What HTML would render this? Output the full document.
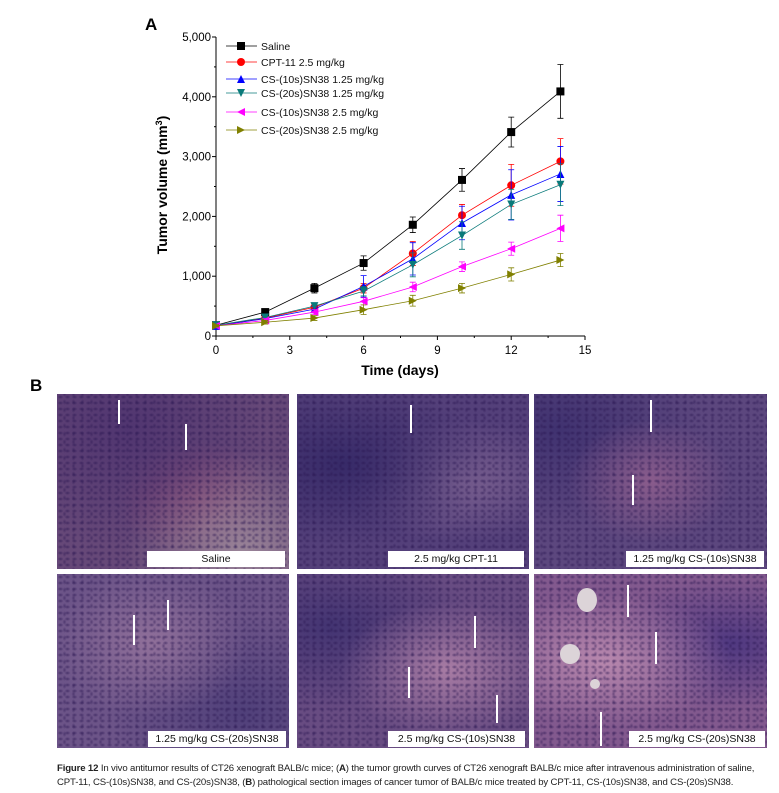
<!DOCTYPE html>
<html><head><meta charset="utf-8"><style>
body{margin:0;background:#fff;width:779px;height:793px;position:relative;overflow:hidden;font-family:"Liberation Sans",sans-serif}
.panel{position:absolute;overflow:hidden}
.panel::before{content:"";position:absolute;inset:0;background-image:radial-gradient(ellipse 3px 2px at 50% 50%,rgba(40,20,80,0.55),transparent 100%),radial-gradient(ellipse 2px 3px at 50% 50%,rgba(40,20,80,0.45),transparent 100%);background-size:7px 6px,9px 8px;background-position:0 0,3px 4px}
.lbl{position:absolute;background:#fff;font-size:10.5px;text-align:center;line-height:16px;height:16px;color:#111;z-index:2}
.arr{position:absolute;width:2px;background:#fff;z-index:2}
.cap{position:absolute;left:57px;top:762px;font-size:9.6px;line-height:14px;color:#222;width:722px;letter-spacing:-0.15px;white-space:nowrap}
</style></head><body>
<div style="position:absolute;left:145px;top:15px;font-weight:bold;font-size:17px">A</div>
<div style="position:absolute;left:30px;top:376px;font-weight:bold;font-size:17px">B</div>
<svg id="chart" width="779" height="380" style="position:absolute;left:0;top:0"></svg>

<div class="panel" style="left:57px;top:394px;width:232px;height:175px;background:radial-gradient(ellipse at 30% 20%,#503570,transparent 60%),radial-gradient(ellipse at 80% 90%,#9a8498,transparent 45%),radial-gradient(ellipse at 60% 60%,#8f4f78,transparent 40%),#664878"><div class="lbl" style="left:90px;top:157px;width:138px">Saline</div><div class="arr" style="left:61px;top:6px;height:24px"></div><div class="arr" style="left:128px;top:30px;height:26px"></div></div>
<div class="panel" style="left:297px;top:394px;width:232px;height:175px;background:radial-gradient(ellipse at 20% 40%,#372a68,transparent 55%),radial-gradient(ellipse at 70% 50%,#7a6090,transparent 50%),#54407a"><div class="lbl" style="left:91px;top:157px;width:136px">2.5 mg/kg CPT-11</div><div class="arr" style="left:113px;top:11px;height:28px"></div></div>
<div class="panel" style="left:534px;top:394px;width:233px;height:175px;background:radial-gradient(ellipse at 50% 50%,#8a5c8c,transparent 50%),radial-gradient(ellipse at 10% 20%,#403270,transparent 50%),#5c477e"><div class="lbl" style="left:92px;top:157px;width:138px">1.25 mg/kg CS-(10s)SN38</div><div class="arr" style="left:116px;top:6px;height:32px"></div><div class="arr" style="left:98px;top:81px;height:30px"></div></div>
<div class="panel" style="left:57px;top:574px;width:232px;height:174px;background:radial-gradient(ellipse at 40% 40%,#90709a,transparent 50%),radial-gradient(ellipse at 80% 80%,#50407a,transparent 50%),#6c5488"><div class="lbl" style="left:91px;top:157px;width:138px">1.25 mg/kg CS-(20s)SN38</div><div class="arr" style="left:110px;top:26px;height:30px"></div><div class="arr" style="left:76px;top:41px;height:30px"></div></div>
<div class="panel" style="left:297px;top:574px;width:232px;height:174px;background:radial-gradient(ellipse at 65% 55%,#a87ca4,transparent 50%),radial-gradient(ellipse at 15% 30%,#433472,transparent 50%),#684c82"><div class="lbl" style="left:91px;top:157px;width:137px">2.5 mg/kg CS-(10s)SN38</div><div class="arr" style="left:177px;top:42px;height:32px"></div><div class="arr" style="left:111px;top:93px;height:31px"></div><div class="arr" style="left:199px;top:121px;height:28px"></div></div>
<div class="panel" style="left:534px;top:574px;width:233px;height:174px;background:radial-gradient(ellipse at 30% 50%,#b888ae,transparent 55%),radial-gradient(ellipse at 85% 40%,#4f3880,transparent 45%),#82598e"><div class="lbl" style="left:95px;top:157px;width:136px">2.5 mg/kg CS-(20s)SN38</div><div style="position:absolute;z-index:1;left:43px;top:14px;width:20px;height:24px;border-radius:50%;background:#dcd4d8"></div><div style="position:absolute;z-index:1;left:26px;top:70px;width:20px;height:20px;border-radius:50%;background:#dcd4d8"></div><div style="position:absolute;z-index:1;left:56px;top:105px;width:10px;height:10px;border-radius:50%;background:#dcd4d8"></div><div class="arr" style="left:93px;top:11px;height:32px"></div><div class="arr" style="left:121px;top:58px;height:32px"></div><div class="arr" style="left:66px;top:138px;height:34px"></div></div>

<div class="cap"><b>Figure 12</b> In vivo antitumor results of CT26 xenograft BALB/c mice; (<b>A</b>) the tumor growth curves of CT26 xenograft BALB/c mice after intravenous administration of saline,<br>CPT-11, CS-(10s)SN38, and CS-(20s)SN38, (<b>B</b>) pathological section images of cancer tumor of BALB/c mice treated by CPT-11, CS-(10s)SN38, and CS-(20s)SN38.</div>

<script>
const days=[0,2,4,6,8,10,12,14];
const saline=[180,400,800,1220,1860,2610,3410,4090];
const salineErr=[20,40,80,120,130,190,250,450];
const cpt=[170,300,480,800,1380,2020,2520,2920];
const cptErr=[20,30,50,80,200,180,350,380];
const s10a=[170,290,450,830,1290,1890,2360,2710];
const s10aErr=[20,30,50,180,270,280,420,460];
const s20a=[180,310,500,750,1190,1680,2200,2530];
const s20aErr=[20,30,50,80,200,230,250,350];
const s10b=[170,260,400,580,820,1160,1460,1800];
const s10bErr=[20,30,40,60,80,80,110,220];
const s20b=[170,230,300,440,590,800,1030,1270];
const s20bErr=[20,30,40,80,90,80,110,110];
const names=["Saline","CPT-11 2.5 mg/kg","CS-(10s)SN38 1.25 mg/kg","CS-(20s)SN38 1.25 mg/kg","CS-(10s)SN38 2.5 mg/kg","CS-(20s)SN38 2.5 mg/kg"];
const xTicks=[0,3,6,9,12,15];
const yTicks=[0,1000,2000,3000,4000,5000];
const yTickLabels=["0","1,000","2,000","3,000","4,000","5,000"];
const series=[[saline,salineErr,"#000","sq"],[cpt,cptErr,"#f00","ci"],[s10a,s10aErr,"#00f","up"],[s20a,s20aErr,"#0a7a7a","dn"],[s10b,s10bErr,"#f0f","lt"],[s20b,s20bErr,"#808000","rt"]];
const X=v=>216+v*(585-216)/15, Y=v=>336-v*(336-37)/5000;
const svg=document.getElementById('chart');const NS="http://www.w3.org/2000/svg";
function mk(t,a,p){const e=document.createElementNS(NS,t);for(const k in a)e.setAttribute(k,a[k]);(p||svg).appendChild(e);return e;}
function marker(type,x,y,c,g){const s=4;let e;
 if(type=="sq")e=mk('rect',{x:x-s,y:y-s,width:2*s,height:2*s,fill:c},g);
 else if(type=="ci")e=mk('circle',{cx:x,cy:y,r:s,fill:c},g);
 else{const pts={up:[[0,-s],[s,s],[-s,s]],dn:[[0,s],[s,-s],[-s,-s]],lt:[[-s,0],[s,-s],[s,s]],rt:[[s,0],[-s,-s],[-s,s]]}[type];
 e=mk('polygon',{points:pts.map(p=>(x+p[0])+','+(y+p[1])).join(' '),fill:c},g);}
 
 }
const ax=mk('g',{stroke:'#000','stroke-width':1});


mk('line',{x1:216,y1:Y(5000),x2:216,y2:336},ax);mk('line',{x1:216,y1:336,x2:585,y2:336},ax);
for(let i=0;i<=10;i++){const v=i*500;mk('line',{x1:216,y1:Y(v),x2:216-(i%2?2:4),y2:Y(v)},ax);}
for(let d=0;d<=15;d+=1.5){mk('line',{x1:X(d),y1:336,x2:X(d),y2:336+(d%3?2:4)},ax);}
yTicks.forEach((v,i)=>{const t=mk('text',{x:211,y:Y(v)+4,'text-anchor':'end','font-size':11.5,'font-family':'Liberation Sans'});t.textContent=yTickLabels[i];});
xTicks.forEach(v=>{const t=mk('text',{x:X(v),y:354,'text-anchor':'middle','font-size':11.5,'font-family':'Liberation Sans'});t.textContent=v;});
let t=mk('text',{x:400,y:375,'text-anchor':'middle','font-size':14,'font-weight':'bold','font-family':'Liberation Sans'});t.textContent="Time (days)";
t=mk('text',{x:0,y:0,'text-anchor':'middle','font-size':14,'font-weight':'bold','font-family':'Liberation Sans',transform:'translate(167,185) rotate(-90)'});t.innerHTML='Tumor volume (mm<tspan dy="-5" font-size="9">3</tspan><tspan dy="5">)</tspan>';
series.forEach((s,si)=>{const [vals,err,c,m]=s;const g=mk('g',{});
 
 
 mk('polyline',{points:vals.map((v,i)=>X(days[i])+','+Y(v)).join(' '),fill:'none',stroke:c,'stroke-width':0.8},g);
 vals.forEach((v,i)=>{const x=X(days[i]);mk('path',{d:`M${x},${Y(v-err[i])}V${Y(v+err[i])}M${x-3},${Y(v-err[i])}h6M${x-3},${Y(v+err[i])}h6`,stroke:c,'stroke-width':0.8,fill:'none'},g);marker(m,x,Y(v),c,g);});
 const ly=[46,62,79,93,112,130][si];
 const lg=mk('g',{});
 
 
 mk('line',{x1:226,y1:ly,x2:257,y2:ly,stroke:c,'stroke-width':0.8},lg);marker(m,241,ly,c,lg);
 const tt=mk('text',{x:261,y:ly+4,'font-size':10.5,'font-family':'Liberation Sans',fill:'#111'},lg);tt.textContent=names[si];
});
</script>
</body></html>
